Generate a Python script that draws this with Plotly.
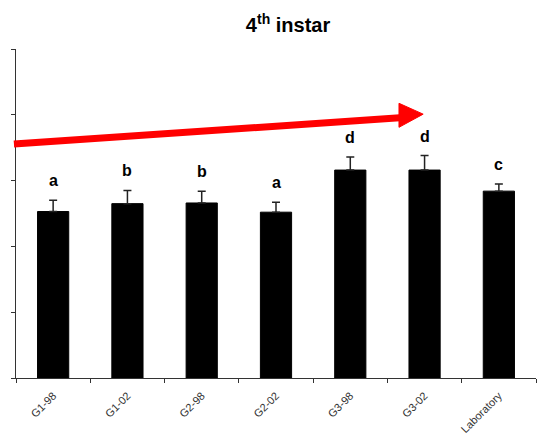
import plotly.graph_objects as go

# Mean values per population with standard errors and significance letters
populations = ["G1-98", "G1-02", "G2-98", "G2-02", "G3-98", "G3-02", "Laboratory"]
means = [25.3, 26.5, 26.6, 25.2, 31.6, 31.6, 28.4]
errors = [1.7, 2.0, 1.8, 1.5, 2.0, 2.2, 1.1]
letters = ["a", "b", "b", "a", "d", "d", "c"]

fig = go.Figure()
fig.add_trace(go.Bar(
    x=populations,
    y=means,
    width=0.42,
    marker=dict(color="black", line=dict(color="black", width=1)),
    error_y=dict(type="data", array=errors, symmetric=False, arrayminus=[0] * len(errors),
                 color="#222", thickness=1.5, width=4),
    showlegend=False,
))

for pop, m, e, lab in zip(populations, means, errors, letters):
    fig.add_annotation(x=pop, y=m + e, text=f"<b>{lab}</b>", showarrow=False,
                       yanchor="bottom", yshift=9,
                       font=dict(family="Liberation Sans, Arial", size=16, color="black"))

# Red trend arrow
fig.add_shape(type="line", xref="paper", yref="paper",
              x0=-0.004, y0=0.711, x1=0.745, y1=0.792,
              line=dict(color="#ff0000", width=7), layer="above")
fig.add_shape(type="path", xref="paper", yref="paper",
              path="M 0.7365 0.835 L 0.783 0.802 L 0.7365 0.762 Z",
              fillcolor="#ff0000", line=dict(color="#ff0000", width=1), layer="above")

fig.update_layout(
    width=555, height=441,
    margin=dict(l=16, r=19, t=49, b=63),
    paper_bgcolor="white", plot_bgcolor="white",
    title=dict(text="<b>4<sup>th</sup> instar</b>", x=0.519, xanchor="center",
               y=0.943, yanchor="middle",
               font=dict(family="Liberation Sans, Arial", size=20, color="black")),
    xaxis=dict(type="category", showline=True, linecolor="#333", linewidth=1,
               ticks="outside", ticklen=4, tickcolor="#333", tickson="boundaries",
               tickangle=-45, showgrid=False, automargin=False, ticklabelstandoff=6,
               tickfont=dict(family="Liberation Sans, Arial", size=11, color="#333")),
    yaxis=dict(range=[0, 50], dtick=10, showline=True, linecolor="#333", linewidth=1,
               ticks="outside", ticklen=4, tickcolor="#333", showticklabels=False,
               showgrid=False, zeroline=False),
)

fig.write_html("out.html")
